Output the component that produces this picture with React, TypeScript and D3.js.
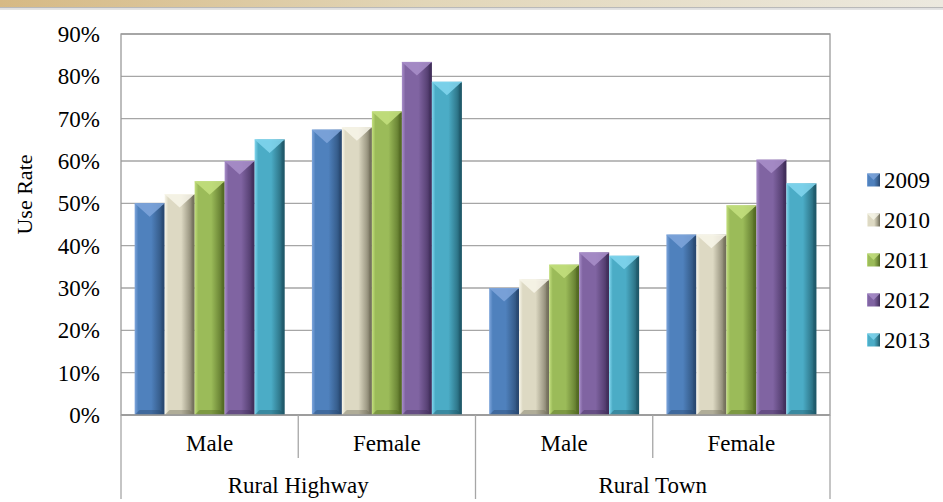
import React from "react";
import * as d3 from "d3";

const groups = ["Rural Highway", "Rural Town"];
const categories = ["Male", "Female", "Male", "Female"];
const categoryGroup = [0, 0, 1, 1];
const years = ["2009", "2010", "2011", "2012", "2013"];
const values2009 = [50.0, 67.4, 30.0, 42.6];
const values2010 = [52.2, 68.0, 32.0, 42.6];
const values2011 = [55.2, 71.7, 35.5, 49.5];
const values2012 = [60.0, 83.4, 38.4, 60.3];
const values2013 = [65.1, 78.7, 37.6, 54.7];
const seriesValues = [values2009, values2010, values2011, values2012, values2013];
const yTicks = [0, 10, 20, 30, 40, 50, 60, 70, 80, 90];

const baseColors = ["#4f81bd", "#ddd9c3", "#9bbb59", "#8064a2", "#4bacc6"];
const lightColors = ["#7fa6dc", "#f8f6ea", "#c4e07f", "#a98fca", "#82d6ee"];
const darkColors = ["#27466d", "#6f6b58", "#4f6620", "#3f2c58", "#1d5666"];

const W = 943;
const H = 502;
const left = 121;
const right = 830;
const top = 34;
const bottom = 415;
const font = "'Liberation Serif', 'Times New Roman', serif";
const fs = 23;

export default function App() {
  const y = d3.scaleLinear().domain([0, 90]).range([bottom, top]);
  const x0 = d3
    .scaleBand<number>()
    .domain(d3.range(categories.length))
    .range([left, right])
    .paddingInner(0.154)
    .paddingOuter(0.077);
  const x1 = d3.scaleBand<number>().domain(d3.range(years.length)).range([0, x0.bandwidth()]);
  const step = x0.step();
  const catEdges = d3.range(categories.length + 1).map((i) => left + i * step);

  return (
    <svg width={W} height={H} style={{ position: "absolute", left: 0, top: 0, background: "#fff" }}>
      <defs>
        <linearGradient id="banner" x1="0" x2="1" y1="0" y2="0">
          <stop offset="0" stopColor="#d6b984" />
          <stop offset="0.45" stopColor="#e2d6b8" />
          <stop offset="1" stopColor="#ece9df" />
        </linearGradient>
        {years.map((yr, i) => (
          <linearGradient key={yr} id={`g${i}`} x1="0" x2="1" y1="0" y2="0">
            <stop offset="0" stopColor={lightColors[i]} />
            <stop offset="0.12" stopColor={baseColors[i]} />
            <stop offset="0.55" stopColor={baseColors[i]} />
            <stop offset="0.82" stopColor={d3.interpolateRgb(baseColors[i], darkColors[i])(0.55)} />
            <stop offset="1" stopColor={darkColors[i]} />
          </linearGradient>
        ))}
      </defs>
      <rect x={0} y={0} width={W} height={7} fill="url(#banner)" />
      <rect x={0} y={7} width={W} height={1.5} fill="#b9b9b9" />
      <rect x={0} y={8.5} width={W} height={1.5} fill="#e4e4e4" />

      {/* gridlines */}
      {yTicks.map((t) => (
        <line key={t} x1={left} x2={right} y1={y(t)} y2={y(t)} stroke="#a6a6a6" strokeWidth={1.3} />
      ))}
      <rect x={left} y={top} width={right - left} height={bottom - top} fill="none" stroke="#9a9a9a" strokeWidth={1.3} />

      {/* y tick labels */}
      {yTicks.map((t) => (
        <text key={t} x={100} y={y(t) + 8} textAnchor="end" fontFamily={font} fontSize={fs} fill="#000">
          {`${t}%`}
        </text>
      ))}
      <text
        transform={`translate(32,${(top + bottom) / 2 - 30}) rotate(-90)`}
        textAnchor="middle"
        fontFamily={font}
        fontSize={22}
        fill="#000"
      >
        Use Rate
      </text>

      {/* bars */}
      {categories.map((c, ci) =>
        years.map((yr, si) => {
          const v = seriesValues[si][ci];
          const bx = (x0(ci) as number) + (x1(si) as number);
          const bw = x1.bandwidth();
          const by = y(v);
          const bh = bottom - by;
          const bev = Math.min(bw * 0.45, bh / 2);
          const bb = Math.min(5, bh / 4);
          return (
            <g key={`${ci}-${si}`}>
              <rect x={bx} y={by} width={bw} height={bh} fill={`url(#g${si})`} />
              <polygon
                points={`${bx},${by} ${bx + bw},${by} ${bx + bw / 2},${by + bev}`}
                fill={lightColors[si]}
                opacity={0.85}
              />
              <polygon
                points={`${bx + bw - 3},${by + 3} ${bx + bw},${by} ${bx + bw},${by + bh} ${bx + bw - 3},${by + bh - 3}`}
                fill={darkColors[si]}
                opacity={0.4}
              />
              <polygon
                points={`${bx},${by + bh} ${bx + bw},${by + bh} ${bx + bw - bb},${by + bh - bb} ${bx + bb},${by + bh - bb}`}
                fill={darkColors[si]}
                opacity={0.4}
              />
              <line x1={bx} x2={bx + bw} y1={by + 0.5} y2={by + 0.5} stroke={lightColors[si]} strokeWidth={1} opacity={0.6} />
            </g>
          );
        })
      )}
      <line x1={left} x2={right} y1={bottom} y2={bottom} stroke="#9a9a9a" strokeWidth={1.3} />

      {/* category dividers */}
      {catEdges.map((ex, i) => (
        <line
          key={i}
          x1={ex}
          x2={ex}
          y1={bottom}
          y2={i % 2 === 0 ? 499 : 458}
          stroke="#a6a6a6"
          strokeWidth={1.3}
        />
      ))}
      {categories.map((c, ci) => (
        <text
          key={ci}
          x={(catEdges[ci] + catEdges[ci + 1]) / 2}
          y={451}
          textAnchor="middle"
          fontFamily={font}
          fontSize={fs}
          fill="#000"
        >
          {c}
        </text>
      ))}
      {groups.map((g, gi) => {
        const idx = categoryGroup.map((v, i) => (v === gi ? i : -1)).filter((i) => i >= 0);
        const cx = (catEdges[idx[0]] + catEdges[idx[idx.length - 1] + 1]) / 2;
        return (
          <text key={g} x={cx} y={493} textAnchor="middle" fontFamily={font} fontSize={fs} fill="#000">
            {g}
          </text>
        );
      })}

      {/* legend */}
      {years.map((yr, i) => {
        const ly = 180 + i * 40;
        return (
          <g key={yr}>
            <rect x={867} y={ly - 6.5} width={13} height={13} fill={`url(#g${i})`} />
            <polygon
              points={`${867},${ly - 6.5} ${880},${ly - 6.5} ${873.5},${ly}`}
              fill={lightColors[i]}
              opacity={0.8}
            />
            <text x={884} y={ly + 8} fontFamily={font} fontSize={fs} fill="#000">
              {yr}
            </text>
          </g>
        );
      })}
    </svg>
  );
}
